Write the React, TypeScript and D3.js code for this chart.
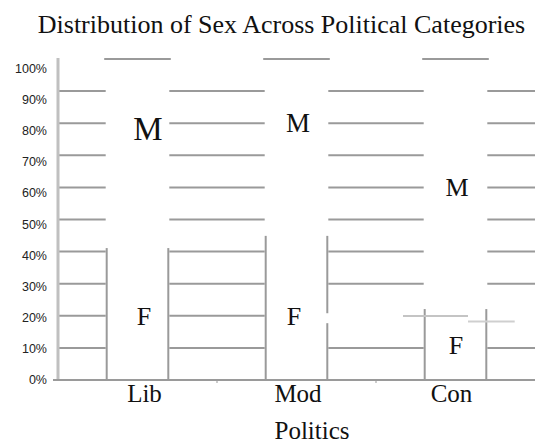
import React from "react";
import * as d3 from "d3";

// ---- data ----
const categories = ["Lib", "Mod", "Con"];
const femaleShare = [0.411, 0.449, 0.221];
const maleShare = [0.589, 0.551, 0.779];
const tickValues = [0, 0.1, 0.2, 0.3, 0.4, 0.5, 0.6, 0.7, 0.8, 0.9, 1.0];
const tickLabels = ["0%", "10%", "20%", "30%", "40%", "50%", "60%", "70%", "80%", "90%", "100%"];
const maleLabelAt = [0.783, 0.8, 0.6];
const femaleLabelAt = [0.197, 0.198, 0.107];
const title = "Distribution of Sex Across Political Categories";
const xTitle = "Politics";

// ---- layout / style (not data) ----
const W = 535;
const H = 443;
const left = 58;
const right = 535;
const y0 = 380;
const y1 = 59;
const maleLabelSize = [33, 27, 26];
const femaleLabelSize = [26, 26, 26];
const maleLabelDx = [10.5, 1.5, 1.5];
const femaleLabelDx = [6.5, -2.5, 0.5];
const catLabelDx = [7, 1.5, -4];
const GRID = "#9a9a9a";
const SERIF = "'Liberation Serif', 'Times New Roman', serif";
const SANS = "'Liberation Sans', Arial, sans-serif";

export default function App() {
  const x = d3.scaleBand<string>().domain(categories).range([left, right]).paddingInner(0.6).paddingOuter(0.3);
  const y = d3.scaleLinear().domain([0, 1]).range([y0, y1]);
  const yLab = d3.scaleLinear().domain([0, 1]).range([380, 69]);
  const bw = x.bandwidth();

  // gridline segments between bars
  const gaps = categories.map((c) => [x(c) as number, (x(c) as number) + bw]);
  const segBounds: [number, number][] = [];
  let prev = left;
  gaps.forEach(([a, b]) => {
    segBounds.push([prev, a]);
    prev = b;
  });
  segBounds.push([prev, right]);

  const gridTicks = tickValues.filter((t) => t > 0 && t < 1);
  // 20% gridline is absent after the Mod and Con bars in the reference
  const missing = (t: number, segIdx: number) => Math.abs(t - 0.2) < 1e-6 && (segIdx === 2 || segIdx === 3);

  const conX = x("Con") as number;
  const modX = x("Mod") as number;

  return (
    <svg width={W} height={H} style={{ position: "absolute", left: 0, top: 0, background: "#fff" }}>
      {/* title */}
      <text x={281.5} y={33} textAnchor="middle" fontFamily={SERIF} fontSize={26} fill="#111">
        {title}
      </text>

      {/* gridlines */}
      {gridTicks.map((t) =>
        segBounds.map(([a, b], i) =>
          missing(t, i) ? null : (
            <line key={`g${t}-${i}`} x1={a} x2={b} y1={y(t)} y2={y(t)} stroke={GRID} strokeWidth={2} />
          )
        )
      )}

      {/* bars: male top edges and female side edges */}
      {categories.map((c, i) => {
        const bx = x(c) as number;
        const fTop = y(femaleShare[i]);
        const mTop = y(femaleShare[i] + maleShare[i]);
        return (
          <g key={c}>
            <line x1={bx - 1.5} x2={bx + bw + 1.5} y1={mTop} y2={mTop} stroke={GRID} strokeWidth={2} />
            <line x1={bx + 1} x2={bx + 1} y1={fTop} y2={y0} stroke={GRID} strokeWidth={2} />
            {c === "Mod" ? (
              <>
                <line x1={bx + bw - 1} x2={bx + bw - 1} y1={fTop} y2={y(0.208)} stroke={GRID} strokeWidth={2} />
                <line x1={bx + bw - 1} x2={bx + bw - 1} y1={y(0.177)} y2={y0} stroke={GRID} strokeWidth={2} />
              </>
            ) : (
              <line x1={bx + bw - 1} x2={bx + bw - 1} y1={fTop} y2={y0} stroke={GRID} strokeWidth={2} />
            )}
          </g>
        );
      })}

      {/* faint displaced edges near the Con bar */}
      <line x1={conX - 20.7} x2={conX + 44.3} y1={y(0.199)} y2={y(0.199)} stroke="#c4c4c4" strokeWidth={2} />
      <line x1={conX + 44.3} x2={conX + 91} y1={y(0.182)} y2={y(0.182)} stroke="#cfcfcf" strokeWidth={2} />

      {/* y axis */}
      <line x1={left} x2={left} y1={y1 - 1} y2={y0} stroke="#c0c0c0" strokeWidth={3} />
      {/* x axis */}
      <line x1={left - 5} x2={right} y1={y0} y2={y0} stroke={GRID} strokeWidth={2} />
      {[1, 2].map((k) => (
        <line key={k} x1={left + k * x.step()} x2={left + k * x.step()} y1={y0 + 1} y2={y0 + 3} stroke="#bbb" strokeWidth={1.5} />
      ))}

      {/* y tick labels */}
      {tickValues.map((t, i) => (
        <text key={`t${i}`} x={47} y={yLab(t)} textAnchor="end" dominantBaseline="central" fontFamily={SANS} fontSize={12.5} fill="#222">
          {tickLabels[i]}
        </text>
      ))}

      {/* segment labels */}
      {categories.map((c, i) => {
        const cx = (x(c) as number) + bw / 2;
        return (
          <g key={`l${c}`}>
            <text x={cx + maleLabelDx[i]} y={y(maleLabelAt[i])} textAnchor="middle" dominantBaseline="central" fontFamily={SERIF} fontSize={maleLabelSize[i]} fill="#111">
              M
            </text>
            <text x={cx + femaleLabelDx[i]} y={y(femaleLabelAt[i])} textAnchor="middle" dominantBaseline="central" fontFamily={SERIF} fontSize={femaleLabelSize[i]} fill="#111">
              F
            </text>
          </g>
        );
      })}

      {/* category labels */}
      {categories.map((c, i) => (
        <text key={`c${c}`} x={(x(c) as number) + bw / 2 + catLabelDx[i]} y={401.7} textAnchor="middle" fontFamily={SERIF} fontSize={25} fill="#111">
          {c}
        </text>
      ))}

      {/* x title */}
      <text x={312} y={439} textAnchor="middle" fontFamily={SERIF} fontSize={25} fill="#111">
        {xTitle}
      </text>
    </svg>
  );
}
